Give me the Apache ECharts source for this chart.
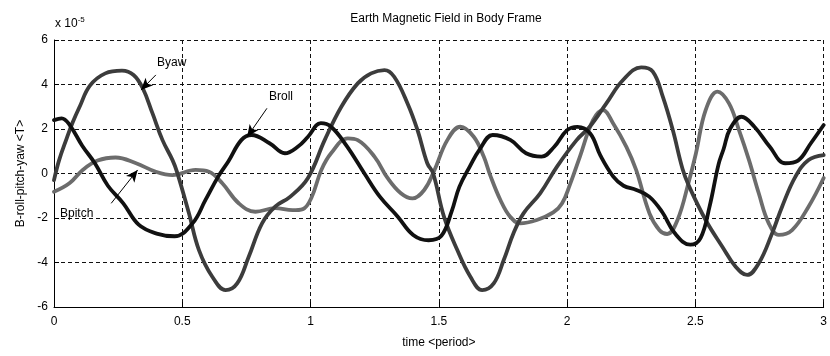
<!DOCTYPE html>
<html>
<head>
<meta charset="utf-8">
<script src="https://cdn.jsdelivr.net/npm/echarts@6/dist/echarts.min.js"></script>
<style>
html,body{margin:0;padding:0;background:#fff;}
#chart{width:830px;height:356px;}
</style>
</head>
<body>
<div id="chart"></div>
<script>
// ---- data (values in units of 1e-5 T) ----
const xTicks = [0, 0.5, 1, 1.5, 2, 2.5, 3];
const yTicks = [-6, -4, -2, 0, 2, 4, 6];

const brollX = [0, 0.03, 0.06, 0.11, 0.16, 0.21, 0.27, 0.33, 0.40, 0.47, 0.54, 0.59, 0.64, 0.68, 0.73, 0.77, 0.84, 0.90, 0.95, 0.99, 1.04, 1.08, 1.14, 1.21, 1.27, 1.34, 1.40, 1.46, 1.51, 1.55, 1.58, 1.62, 1.66, 1.71, 1.78, 1.84, 1.90, 1.95, 2.00, 2.04, 2.09, 2.13, 2.18, 2.22, 2.27, 2.32, 2.37, 2.42, 2.48, 2.52, 2.555, 2.59, 2.61, 2.635, 2.68, 2.73, 2.79, 2.85, 2.90, 2.95, 3.00];
const brollY = [2.4, 2.48, 2.2, 1.25, 0.45, -0.55, -1.34, -2.3, -2.7, -2.82, -2.24, -1.2, -0.14, 0.55, 1.5, 1.73, 1.36, 0.91, 1.2, 1.65, 2.26, 2.1, 1.25, 0.0, -1.04, -1.94, -2.76, -3.0, -2.8, -1.7, -0.6, 0.3, 1.1, 1.73, 1.5, 0.91, 0.76, 1.2, 1.95, 2.1, 1.8, 0.8, -0.14, -0.55, -0.74, -1.04, -1.72, -2.69, -3.2, -2.9, -1.5, 0.4, 1.1, 2.0, 2.55, 2.1, 1.2, 0.46, 0.58, 1.36, 2.18];

const byawX = [0, 0.02, 0.047, 0.073, 0.10, 0.14, 0.20, 0.265, 0.31, 0.346, 0.384, 0.423, 0.462, 0.48, 0.526, 0.565, 0.617, 0.669, 0.714, 0.759, 0.811, 0.862, 0.92, 0.99, 1.055, 1.12, 1.184, 1.236, 1.288, 1.326, 1.378, 1.417, 1.455, 1.478, 1.52, 1.572, 1.623, 1.669, 1.714, 1.753, 1.791, 1.83, 1.895, 1.96, 2.037, 2.088, 2.153, 2.218, 2.289, 2.334, 2.373, 2.412, 2.45, 2.476, 2.54, 2.605, 2.657, 2.702, 2.747, 2.799, 2.838, 2.89, 2.941, 3.0];
const byawY = [-0.3, 0.6, 1.5, 2.3, 3.0, 3.95, 4.5, 4.62, 4.43, 3.83, 2.7, 1.5, 0.6, 0.05, -1.79, -3.44, -4.64, -5.24, -4.94, -3.74, -2.24, -1.49, -1.05, -0.2, 1.5, 3.0, 4.05, 4.5, 4.65, 4.35, 3.15, 1.95, 0.46, 0.0, -1.94, -3.44, -4.64, -5.24, -4.94, -3.89, -2.69, -1.79, -0.89, 0.3, 1.5, 2.1, 3.15, 4.2, 4.77, 4.58, 3.45, 1.95, 0.2, -0.59, -2.09, -3.29, -4.19, -4.56, -4.04, -2.69, -1.49, -0.14, 0.61, 0.83];

const bpitchX = [0, 0.06, 0.112, 0.17, 0.24, 0.32, 0.397, 0.462, 0.552, 0.604, 0.656, 0.72, 0.785, 0.862, 0.93, 0.97, 1.003, 1.042, 1.08, 1.145, 1.184, 1.249, 1.30, 1.352, 1.397, 1.443, 1.481, 1.533, 1.584, 1.636, 1.675, 1.70, 1.74, 1.778, 1.817, 1.882, 1.946, 1.98, 2.011, 2.05, 2.101, 2.14, 2.179, 2.231, 2.269, 2.321, 2.36, 2.39, 2.43, 2.476, 2.502, 2.54, 2.586, 2.631, 2.67, 2.709, 2.747, 2.786, 2.825, 2.877, 2.941, 3.0];
const bpitchY = [-0.82, -0.44, 0.16, 0.58, 0.72, 0.46, 0.08, -0.07, 0.16, 0.08, -0.44, -1.34, -1.72, -1.56, -1.65, -1.6, -1.1, 0.16, 0.91, 1.58, 1.5, 0.76, -0.2, -0.89, -1.12, -0.74, 0.1, 1.5, 2.1, 1.65, 0.76, -0.07, -1.19, -1.94, -2.24, -2.09, -1.75, -1.35, -0.5, 0.76, 2.4, 2.85, 2.26, 1.2, 0.16, -1.79, -2.55, -2.72, -2.1, -0.29, 0.9, 2.85, 3.68, 3.15, 1.95, 0.6, -0.89, -2.24, -2.76, -2.54, -1.49, -0.2];

// annotations: label, arrow tail [x,y], arrow head [x,y] (data units)
const annoNames = ['Byaw', 'Broll', 'Bpitch'];
const annoTail = [[0.397, 4.43], [0.830, 2.93], [0.223, -1.34]];
const annoHead = [[0.339, 3.75], [0.753, 1.65], [0.326, 0.16]];
const annoTextPx = [[157, 57], [269, 91], [60, 208]];

function pairs(xs, ys){ return xs.map((x,i)=>[x, ys[i]]); }

const FONT = 'Liberation Sans, Arial, sans-serif';
const chart = echarts.init(document.getElementById('chart'), null, {renderer:'canvas'});

const gridDash = [4,3];

const lineSeries = (name, xs, ys, color) => ({
  name, type:'line', data: pairs(xs, ys), showSymbol:false, symbol:'none',
  smooth:0.4,
  lineStyle:{color, width:3.8, cap:'round', join:'round'},
  animation:false, z:3
});

chart.setOption({
  animation:false,
  backgroundColor:'#fff',
  title:{
    text:'Earth Magnetic Field in Body Frame',
    left:441, textAlign:'center', top:8,
    textStyle:{fontFamily:FONT, fontSize:12, fontWeight:'normal', color:'#000'}
  },
  grid:{left:54, right:2, top:40, bottom:49},
  xAxis:{
    type:'value', min:0, max:3, interval:0.5,
    name:'time <period>', nameLocation:'middle', nameGap:30,
    nameTextStyle:{fontFamily:FONT, fontSize:12, color:'#000'},
    axisLine:{show:true, onZero:false, lineStyle:{color:'#000', width:1}},
    axisTick:{show:true, inside:true, length:5, lineStyle:{color:'#000'}},
    axisLabel:{fontFamily:FONT, fontSize:12, color:'#000', margin:9,
      formatter:v=>String(v)},
    splitLine:{show:true, lineStyle:{color:'#111', width:1, type:gridDash}}
  },
  yAxis:{
    type:'value', min:-6, max:6, interval:2,
    name:'B-roll-pitch-yaw <T>', nameLocation:'middle', nameGap:27,
    nameTextStyle:{fontFamily:FONT, fontSize:12, color:'#000'},
    axisLine:{show:true, onZero:false, lineStyle:{color:'#000', width:1}},
    axisTick:{show:true, inside:true, length:5, lineStyle:{color:'#000'}},
    axisLabel:{fontFamily:FONT, fontSize:12, color:'#000', margin:6},
    splitLine:{show:true, lineStyle:{color:'#111', width:1, type:gridDash}}
  },
  series:[
    lineSeries('Bpitch', bpitchX, bpitchY, '#6c6c6c'),
    lineSeries('Byaw', byawX, byawY, '#3c3c3c'),
    Object.assign(lineSeries('Broll', brollX, brollY, '#111111'), {
      markLine:{
        silent:true, animation:false, symbol:['none','arrow'], symbolSize:[8,12],
        label:{show:false},
        lineStyle:{color:'#000', width:1, type:'solid'},
        data: annoNames.map((n,i)=>[
          {coord:annoTail[i], symbol:'none'},
          {coord:annoHead[i], symbol:'arrow'}
        ])
      }
    })
  ],
  graphic:[
    {type:'text', left:55, top:16, style:{
      text:'{a|x 10}{b|-5}', fill:'#000',
      rich:{a:{fontFamily:FONT, fontSize:12, verticalAlign:'bottom', lineHeight:14},
            b:{fontFamily:FONT, fontSize:8, verticalAlign:'top', lineHeight:14, padding:[0,0,8,0]}}
    }},
    ...annoNames.map((n,i)=>({
      type:'text', left:annoTextPx[i][0], top:annoTextPx[i][1], z:10,
      style:{text:n, fill:'#000', font:'12px ' + FONT}
    }))
  ]
});
</script>
</body>
</html>
